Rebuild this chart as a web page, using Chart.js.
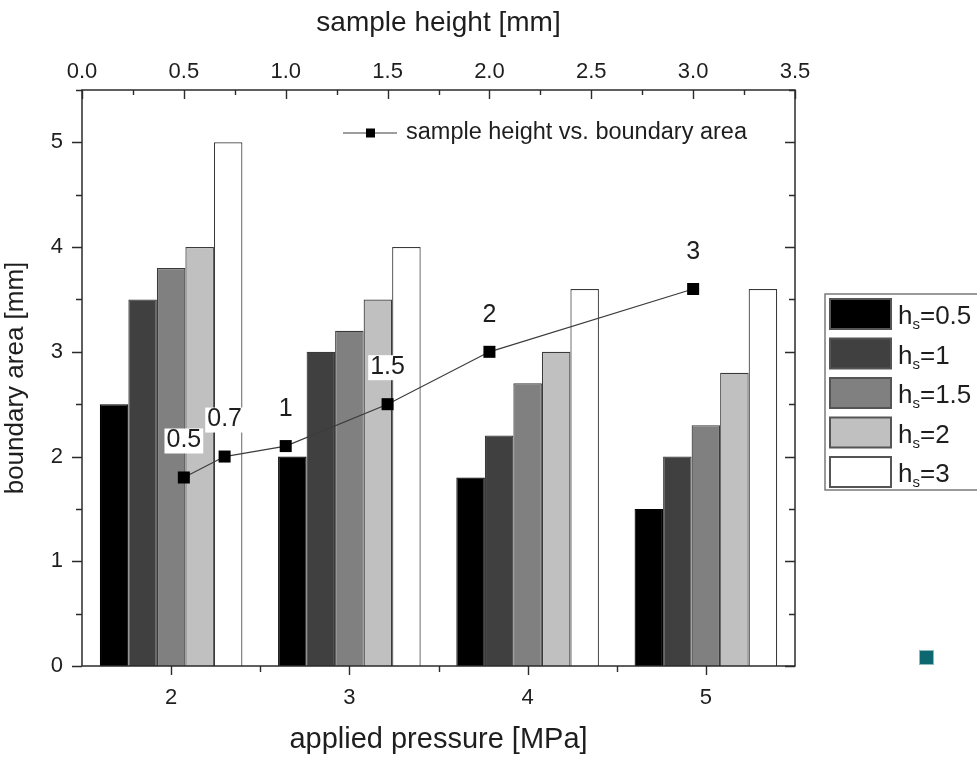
<!DOCTYPE html>
<html>
<head>
<meta charset="utf-8">
<title>boundary area vs applied pressure</title>
<script src="https://cdn.jsdelivr.net/npm/chart.js@4.4.0/dist/chart.umd.min.js"></script>
<style>
  html, body { margin: 0; padding: 0; background: #fff; }
  #wrap { position: relative; width: 977px; height: 757px; overflow: hidden; }
  #marca {
    position: absolute; left: 919px; top: 650px; width: 13px; height: 13px;
    background: #0c6770; border: 1px solid #8dbcc0;
  }
</style>
</head>
<body>
<div id="wrap">
  <canvas id="grafico"></canvas>
  <div id="marca"></div>
</div>
<script>
const pressoes = ["2", "3", "4", "5"];
const nomesSeries = ["0.5", "1", "1.5", "2", "3"]; // h_s values
const hs05 = [2.5, 2.0, 1.8, 1.5];
const hs1 = [3.5, 3.0, 2.2, 2.0];
const hs15 = [3.8, 3.2, 2.7, 2.3];
const hs2 = [4.0, 3.5, 3.0, 2.8];
const hs3 = [5.0, 4.0, 3.6, 3.6];
const alturas = [0.5, 0.7, 1.0, 1.5, 2.0, 3.0];
const areaPorAltura = [1.8, 2.0, 2.1, 2.5, 3.0, 3.6];
const rotulosAltura = ["0.5", "0.7", "1", "1.5", "2", "3"];

const cores = ["#000000", "#404040", "#808080", "#c0c0c0", "#ffffff"];
const FONTE = 'Arial, "Liberation Sans", sans-serif';
const TEXTO = "#1e1e1e";

const seriesBarras = [hs05, hs1, hs15, hs2, hs3];

const datasets = seriesBarras.map((valores, i) => ({
  type: "bar",
  indexAxis: "x",
  label: "h_s=" + nomesSeries[i],
  data: valores,
  backgroundColor: cores[i],
  borderColor: i === 0 ? "#000000" : "#3a3a3a",
  borderWidth: 1.2,
  categoryPercentage: 0.8,
  barPercentage: 1.0,
  xAxisID: "x",
  yAxisID: "y",
  order: 2
}));

datasets.push({
  type: "line",
  indexAxis: "x",
  label: "sample height vs. boundary area",
  data: alturas.map((h, i) => ({ x: h, y: areaPorAltura[i] })),
  xAxisID: "x2",
  yAxisID: "y",
  borderColor: "#3c3c3c",
  borderWidth: 1.2,
  pointStyle: "rect",
  pointRadius: 8.5,
  pointBackgroundColor: "#000",
  pointBorderColor: "#000",
  pointBorderWidth: 0,
  tension: 0,
  order: 0
});

// frame with inward/outward ticks like the original plot
const molduraPlugin = {
  id: "moldura",
  afterDraw(chart) {
    const { ctx, chartArea: a, scales } = chart;
    ctx.save();
    ctx.strokeStyle = "#2b2b2b";
    ctx.lineWidth = 1.5;
    ctx.strokeRect(a.left, a.top, a.right - a.left, a.bottom - a.top);

    ctx.lineWidth = 1.4;
    ctx.beginPath();
    for (let i = 0; i <= 11; i++) {
      const y = Math.round(scales.y.getPixelForValue(i / 2)) + 0.5;
      const len = i % 2 === 0 ? 10 : 6;
      ctx.moveTo(a.left - len, y);
      ctx.lineTo(a.left, y);
      ctx.moveTo(a.right, y);
      ctx.lineTo(a.right - len, y);
    }
    for (let i = 0; i <= 14; i++) {
      const x = Math.round(scales.x2.getPixelForValue(i * 0.25)) + 0.5;
      const len = i % 2 === 0 ? 9 : 5;
      ctx.moveTo(x, a.top);
      ctx.lineTo(x, a.top + len);
    }
    const px = pressoes.map((_, i) => scales.x.getPixelForValue(i));
    px.forEach((x, i) => {
      const xr = Math.round(x) + 0.5;
      ctx.moveTo(xr, a.bottom);
      ctx.lineTo(xr, a.bottom + 9);
      if (i > 0) {
        const xm = Math.round((px[i - 1] + x) / 2) + 0.5;
        ctx.moveTo(xm, a.bottom);
        ctx.lineTo(xm, a.bottom + 6);
      }
    });
    ctx.stroke();
    ctx.restore();
  }
};

// numbers above the sample height points
const rotulosPlugin = {
  id: "rotulos",
  afterDatasetsDraw(chart) {
    const { ctx } = chart;
    const meta = chart.getDatasetMeta(datasets.length - 1);
    ctx.save();
    ctx.font = "25px " + FONTE;
    ctx.textAlign = "center";
    ctx.textBaseline = "middle";
    meta.data.forEach((pt, i) => {
      const txt = rotulosAltura[i];
      const w = ctx.measureText(txt).width;
      const y = pt.y - 37;
      ctx.fillStyle = "#ffffff";
      ctx.fillRect(pt.x - w / 2 - 2, y - 12, w + 4, 25);
      ctx.fillStyle = TEXTO;
      ctx.fillText(txt, pt.x, y);
    });
    ctx.restore();
  }
};

// the two legends: line legend inside, bar legend on the right
const legendasPlugin = {
  id: "legendas",
  afterDraw(chart) {
    const { ctx, chartArea: a } = chart;
    ctx.save();

    const ly = a.top + 43;
    const lx = a.left + 261;
    ctx.strokeStyle = "#3c3c3c";
    ctx.lineWidth = 1.2;
    ctx.beginPath();
    ctx.moveTo(lx, ly);
    ctx.lineTo(lx + 54, ly);
    ctx.stroke();
    ctx.fillStyle = "#000";
    ctx.fillRect(lx + 23, ly - 4.5, 9, 9);
    ctx.fillStyle = TEXTO;
    ctx.font = "23.5px " + FONTE;
    ctx.textBaseline = "middle";
    ctx.fillText(datasets[datasets.length - 1].label, lx + 63, ly);

    const bx = a.right + 30;
    const by = 294;
    ctx.strokeStyle = "#7a7a7a";
    ctx.lineWidth = 1.5;
    ctx.strokeRect(bx, by, 200, 196);
    nomesSeries.forEach((nome, i) => {
      const y = by + 5 + i * 39.5;
      ctx.fillStyle = cores[i];
      ctx.fillRect(bx + 5, y, 61, 30);
      ctx.strokeStyle = "#555";
      ctx.lineWidth = 2;
      ctx.strokeRect(bx + 5, y, 61, 30);
      const cy = y + 16;
      let tx = bx + 73;
      ctx.fillStyle = TEXTO;
      ctx.textBaseline = "alphabetic";
      ctx.font = "26px " + FONTE;
      ctx.fillText("h", tx, cy + 9);
      tx += ctx.measureText("h").width;
      ctx.font = "15px " + FONTE;
      ctx.fillText("s", tx, cy + 14);
      tx += ctx.measureText("s").width;
      ctx.font = "26px " + FONTE;
      ctx.fillText("=" + nome, tx, cy + 9);
    });
    ctx.restore();
  }
};

const canvas = document.getElementById("grafico");

new Chart(canvas.getContext("2d"), {
  type: "bar",
  data: { labels: pressoes, datasets },
  plugins: [rotulosPlugin, molduraPlugin, legendasPlugin],
  options: {
    // all datasets share the y axis, so bars are grouped as one set
    indexAxis: "y",
    responsive: true,
    maintainAspectRatio: false,
    animation: false,
    layout: { padding: { left: 0, top: 0, bottom: 0, right: 182 } },
    plugins: {
      legend: { display: false },
      tooltip: { enabled: false }
    },
    scales: {
      x: {
        type: "category",
        position: "bottom",
        offset: true,
        grid: { display: false, drawTicks: false },
        border: { display: false },
        ticks: { font: { size: 22, family: FONTE }, color: TEXTO, padding: 19 },
        title: {
          display: true,
          text: "applied pressure [MPa]",
          font: { size: 29, family: FONTE },
          color: TEXTO,
          padding: { top: 5, bottom: 0 }
        },
        afterFit: (s) => { s.height = 91; }
      },
      x2: {
        type: "linear",
        position: "top",
        offset: false,
        min: 0,
        max: 3.5,
        grid: { display: false, drawTicks: false },
        border: { display: false },
        ticks: {
          stepSize: 0.5,
          font: { size: 22, family: FONTE },
          color: TEXTO,
          padding: 5,
          callback: (v) => Number(v).toFixed(1)
        },
        title: {
          display: true,
          text: "sample height [mm]",
          font: { size: 28, family: FONTE },
          color: TEXTO,
          padding: { top: 6, bottom: 0 }
        },
        afterFit: (s) => { s.height = 90; }
      },
      y: {
        type: "linear",
        position: "left",
        offset: false,
        min: 0,
        max: 5.5,
        grid: { display: false, drawTicks: false },
        border: { display: false },
        ticks: {
          stepSize: 0.5,
          font: { size: 22, family: FONTE },
          color: TEXTO,
          padding: 19,
          callback: (v) => (Number.isInteger(v) ? String(v) : "")
        },
        title: {
          display: true,
          text: "boundary area [mm]",
          font: { size: 26, family: FONTE },
          color: TEXTO,
          padding: { top: 0, bottom: 0 }
        },
        afterFit: (s) => { s.width = 82; }
      }
    }
  }
});
</script>
</body>
</html>
